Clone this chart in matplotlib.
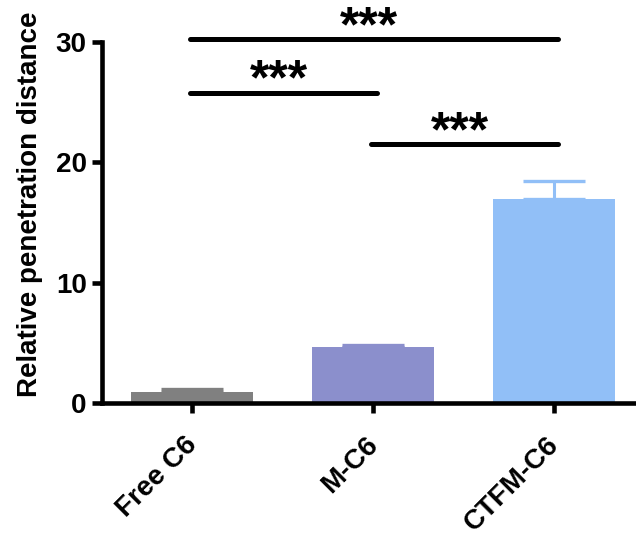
import matplotlib
matplotlib.use("Agg")
import matplotlib.pyplot as plt
import matplotlib.transforms as mtransforms

# --------------------------------------------------------------------------- #
# Data
# --------------------------------------------------------------------------- #
groups = ["Free C6", "M-C6", "CTFM-C6"]
means = [0.95, 4.63, 16.95]
sem_up = [0.2, 0.17, 1.5]
colors = ["#808080", "#8b8fcc", "#91bff7"]

# significance brackets: (from group, to group, height, label)
sig_pairs = [(0, 2, 30.25, "***"), (0, 1, 25.8, "***"), (1, 2, 21.5, "***")]

plt.rcParams["font.family"] = ["Liberation Sans", "DejaVu Sans"]
plt.rcParams["font.weight"] = "bold"

fig = plt.figure(figsize=(6.36, 5.37), dpi=100)
ax = fig.add_axes([0.1604, 0.2495, 0.8396, 0.7393])

x = list(range(len(groups)))
ax.bar(x, means, width=0.674, color=colors, zorder=2)
for xi, m, e, c in zip(x, means, sem_up, colors):
    ax.errorbar(xi, m, yerr=[[0], [e]], color=c, lw=2.2, capsize=22.5,
                capthick=2.4, zorder=1)

for a, b, h, lab in sig_pairs:
    ax.plot([a - 0.01, b + 0.02], [h, h], color="black", lw=3.6,
            solid_capstyle="round", clip_on=False)
    ax.text((a + b) / 2 - 0.02, h - 0.15, lab, ha="center", va="baseline",
            fontsize=36, fontweight="bold", clip_on=False)

ax.set_xlim(-0.497, 2.453)
ax.set_ylim(0, 33)
ax.set_yticks([0, 10, 20, 30])
ax.spines["left"].set_bounds(0, 30)
ax.spines["top"].set_visible(False)
ax.spines["right"].set_visible(False)
for s in ("left", "bottom"):
    ax.spines[s].set_linewidth(3.3)

ax.set_xticks(x)
ax.set_xticklabels(groups, rotation=45, ha="right", rotation_mode="anchor",
                   fontsize=20, fontweight="bold")
ax.tick_params(axis="both", width=3.3, length=7, labelsize=20, pad=4)
ax.tick_params(axis="x", pad=14)
# nudge the rotated labels a little left, like the reference
shift = mtransforms.ScaledTranslation(-6 / 72, 0, fig.dpi_scale_trans)
for lbl in ax.get_xticklabels():
    lbl.set_transform(lbl.get_transform() + shift)
ax.set_ylabel("Relative penetration distance", fontsize=20, fontweight="bold",
              labelpad=9)

fig.savefig("out.png", dpi=100)
